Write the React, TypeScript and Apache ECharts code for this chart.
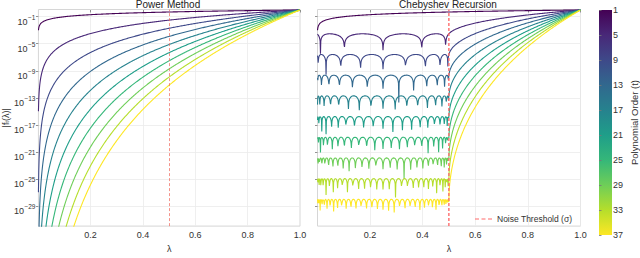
import React, { useEffect, useRef } from "react";
import * as echarts from "echarts";

const ORDERS = [1, 5, 9, 13, 17, 21, 25, 29, 33, 37];
const ORDER_COLORS = ["#440154", "#482878", "#3e4989", "#31688e", "#26828e", "#1f9e89", "#35b779", "#6ece58", "#b5de2b", "#fde725"];
const SIGMA = 0.5;
const LAMBDA_MIN = 0.001;
const LAMBDA_MAX = 1.0;
const N_SAMPLES = 800;
const Y_TICKS = [-29, -25, -21, -17, -13, -9, -5, -1];
const X_TICKS = [0.2, 0.4, 0.6, 0.8, 1.0];
const CBAR_TICKS = [1, 5, 9, 13, 17, 21, 25, 29, 33, 37];
const Y_MIN = -32;
const Y_MAX = 0.07;
const TITLES = ["Power Method", "Chebyshev Recursion"];
const LEGEND_NAME = "Noise Threshold (σ)";

const FONT = "Liberation Sans, Arial, Helvetica, sans-serif";

function lambdaGrid(): number[] {
  const out: number[] = [];
  for (let i = 0; i < N_SAMPLES; i++) out.push(LAMBDA_MIN + ((LAMBDA_MAX - LAMBDA_MIN) * i) / (N_SAMPLES - 1));
  return out;
}

function chebT(t: number, x: number): number {
  if (Math.abs(x) <= 1) return Math.cos(t * Math.acos(x));
  if (x > 1) return Math.cosh(t * Math.acosh(x));
  const s = t % 2 === 0 ? 1 : -1;
  return s * Math.cosh(t * Math.acosh(-x));
}

function powerLog(t: number, lam: number): number {
  return t * Math.log10(lam);
}

function chebLog(t: number, lam: number): number {
  if (t === 1) return Math.log10(lam);
  const num = Math.abs(chebT(t, (2 * lam) / SIGMA - 1));
  const den = chebT(t, 2 / SIGMA - 1);
  return Math.log10(Math.max(num, 1e-300)) - Math.log10(den);
}

export default function App() {
  const ref = useRef<HTMLDivElement>(null);
  useEffect(() => {
    if (!ref.current) return;
    const chart = echarts.init(ref.current, null, { renderer: "svg" });
    const lam = lambdaGrid();

    const grids = [
      { left: 38, top: 9.5, width: 262, height: 225.5 },
      { left: 317.5, top: 9.5, width: 263, height: 225.5 },
      { left: 599, top: 10, width: 13, height: 225 },
    ].map((g, i) => ({
      ...g,
      show: i < 2,
      backgroundColor: "#ffffff",
      borderColor: "#d6d6d6",
      borderWidth: 1,
      containLabel: false,
    }));

    const xAxisBase = (gridIndex: number) => ({
      type: "value",
      gridIndex,
      min: LAMBDA_MIN,
      max: LAMBDA_MAX,
      name: "λ",
      nameLocation: "middle",
      nameGap: 15,
      nameTextStyle: { fontFamily: FONT, fontSize: 9, color: "#333" },
      axisLine: { show: false },
      axisTick: { show: true, length: 2.5, lineStyle: { color: "#777", width: 0.8 }, customValues: X_TICKS },
      axisLabel: {
        fontFamily: FONT,
        fontSize: 9,
        color: "#333",
        margin: 4,
        customValues: X_TICKS,
        formatter: (v: number) => v.toFixed(1),
      },
      splitLine: { show: true, lineStyle: { color: "#ebebeb", width: 0.8 } },
    });

    const yAxisBase = (gridIndex: number, showLabels: boolean) => ({
      type: "value",
      gridIndex,
      min: Y_MIN,
      max: Y_MAX,
      name: showLabels ? "|f{sub|t}(λ)|" : "",
      nameLocation: "middle",
      nameGap: 28,
      nameRotate: 90,
      nameTextStyle: {
        fontFamily: FONT,
        fontSize: 9,
        color: "#333",
        rich: { sub: { fontFamily: FONT, fontSize: 6, color: "#333", verticalAlign: "bottom", lineHeight: 8 } },
      },
      axisLine: { show: false },
      axisTick: { show: true, length: 2.5, lineStyle: { color: "#777", width: 0.8 }, customValues: Y_TICKS },
      axisLabel: {
        show: showLabels,
        customValues: Y_TICKS,
        margin: 3,
        padding: [8, 0, 0, 0],
        formatter: (v: number) => `{b|10}{s|−${Math.abs(v)}}`,
        rich: {
          b: { fontFamily: FONT, fontSize: 9, color: "#333", lineHeight: 12, verticalAlign: "bottom" },
          s: { fontFamily: FONT, fontSize: 6.5, color: "#333", lineHeight: 12, verticalAlign: "bottom", padding: [0, 0, 6, 0.5] },
        },
      },
      splitLine: { show: true, lineStyle: { color: "#ebebeb", width: 0.8 } },
    });

    const series: any[] = [];
    ORDERS.forEach((t, i) => {
      series.push({
        type: "line",
        name: `power-${t}`,
        xAxisIndex: 0,
        yAxisIndex: 0,
        data: lam.map((l) => [l, powerLog(t, l)]),
        showSymbol: false,
        symbol: "none",
        clip: true,
        silent: true,
        z: 2,
        lineStyle: { color: ORDER_COLORS[i], width: 1.1 },
        markLine:
          i === 0
            ? {
                silent: true,
                symbol: "none",
                label: { show: false },
                lineStyle: { color: "#f06a5e", width: 0.8, type: [3, 2], opacity: 0.9 },
                data: [{ xAxis: SIGMA }],
              }
            : undefined,
      });
    });
    ORDERS.forEach((t, i) => {
      series.push({
        type: "line",
        name: `cheb-${t}`,
        xAxisIndex: 1,
        yAxisIndex: 1,
        data: lam.map((l) => [l, chebLog(t, l)]),
        showSymbol: false,
        symbol: "none",
        clip: true,
        silent: true,
        z: 2,
        lineStyle: { color: ORDER_COLORS[i], width: 1.1 },
      });
    });
    series.push({
      type: "line",
      name: LEGEND_NAME,
      xAxisIndex: 1,
      yAxisIndex: 1,
      data: [
        [SIGMA, Y_MIN],
        [SIGMA, Y_MAX],
      ],
      showSymbol: false,
      symbol: "none",
      silent: true,
      z: 5,
      itemStyle: { color: "#ff6b6b" },
      lineStyle: { color: "#ff6b6b", width: 1.4, type: [3, 2] },
    });

    const option: any = {
      animation: false,
      backgroundColor: "#ffffff",
      grid: grids,
      xAxis: [
        xAxisBase(0),
        xAxisBase(1),
        { type: "value", gridIndex: 2, show: false, min: 0, max: 1 },
      ],
      yAxis: [
        yAxisBase(0, true),
        yAxisBase(1, false),
        {
          type: "value",
          gridIndex: 2,
          min: CBAR_TICKS[0],
          max: CBAR_TICKS[CBAR_TICKS.length - 1],
          inverse: true,
          position: "right",
          name: "Polynomial Order (t)",
          nameLocation: "middle",
          nameGap: 20,
          nameRotate: 90,
          nameTextStyle: { fontFamily: FONT, fontSize: 9.5, color: "#333" },
          axisLine: { show: false },
          axisTick: { show: true, length: 2.5, lineStyle: { color: "#777", width: 0.8 }, customValues: CBAR_TICKS },
          axisLabel: { fontFamily: FONT, fontSize: 9, color: "#333", margin: 4, customValues: CBAR_TICKS },
          splitLine: { show: false },
        },
      ],
      legend: {
        data: [
          {
            name: LEGEND_NAME,
            icon: "path://M0,0h4v1h-4z M6.5,0h4v1h-4z M13,0h4v1h-4z",
          },
        ],
        left: 470,
        top: 212,
        padding: [2, 5, 2, 5],
        itemWidth: 17,
        itemHeight: 1.2,
        itemGap: 5,
        textStyle: { fontFamily: FONT, fontSize: 8.5, color: "#333", lineHeight: 10 },
      },
      graphic: [
        {
          type: "text",
          x: 168,
          y: 4,
          style: { text: TITLES[0], font: `10px ${FONT}`, fill: "#222", textAlign: "center", textVerticalAlign: "middle" },
        },
        {
          type: "text",
          x: 448,
          y: 4,
          style: { text: TITLES[1], font: `10px ${FONT}`, fill: "#222", textAlign: "center", textVerticalAlign: "middle" },
        },
        {
          type: "rect",
          shape: { x: 599, y: 10, width: 13, height: 225 },
          style: {
            fill: new echarts.graphic.LinearGradient(
              0,
              0,
              0,
              1,
              ORDER_COLORS.map((c, i) => ({ offset: i / (ORDER_COLORS.length - 1), color: c }))
            ),
          },
          z: 0,
        },
      ],
      series,
    };
    chart.setOption(option);
    return () => chart.dispose();
  }, []);
  return <div ref={ref} style={{ width: 640, height: 258, position: "absolute", left: 0, top: 0 }} />;
}
